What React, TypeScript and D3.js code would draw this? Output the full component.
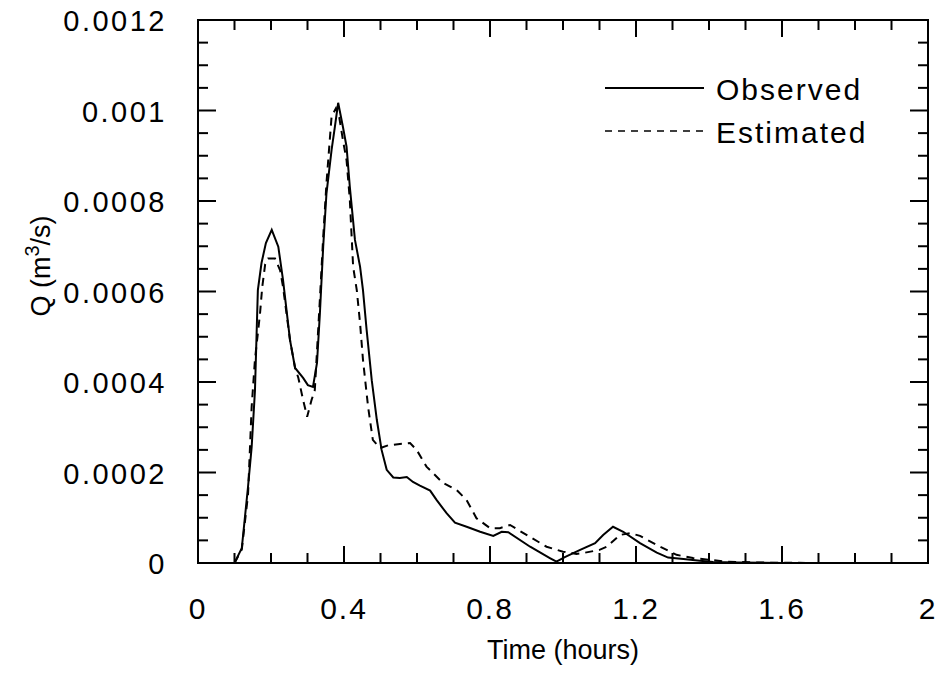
import React, { useEffect, useRef } from "react";
import * as d3 from "d3";

const obsT = [0.1, 0.12, 0.137, 0.147, 0.156, 0.164, 0.174, 0.186, 0.202, 0.22, 0.233, 0.252, 0.266, 0.288, 0.301, 0.315, 0.326, 0.334, 0.343, 0.352, 0.366, 0.375, 0.384, 0.397, 0.407, 0.416, 0.43, 0.444, 0.452, 0.462, 0.476, 0.49, 0.503, 0.517, 0.535, 0.553, 0.572, 0.589, 0.608, 0.636, 0.654, 0.681, 0.704, 0.736, 0.773, 0.809, 0.832, 0.85, 0.91, 0.964, 0.982, 1.005, 1.047, 1.088, 1.11, 1.137, 1.165, 1.211, 1.257, 1.288, 1.33, 1.375, 1.411, 1.476, 1.6, 1.8, 1.95];
const obsQ = [0, 0.33, 1.68, 2.56, 3.8, 6.03, 6.63, 7.07, 7.36, 6.99, 6.25, 4.93, 4.31, 4.09, 3.93, 3.89, 4.42, 5.52, 6.99, 8.17, 9.13, 9.64, 10.17, 9.64, 9.2, 8.31, 7.14, 6.55, 6.03, 5.15, 4.04, 3.16, 2.5, 2.06, 1.89, 1.88, 1.9, 1.79, 1.71, 1.6, 1.39, 1.1, 0.89, 0.8, 0.69, 0.6, 0.69, 0.68, 0.36, 0.11, 0.03, 0.13, 0.29, 0.44, 0.62, 0.8, 0.69, 0.44, 0.23, 0.12, 0.09, 0.05, 0.02, 0.01, 0, 0, 0];

const estT = [0.1, 0.12, 0.137, 0.147, 0.156, 0.17, 0.176, 0.184, 0.192, 0.211, 0.225, 0.233, 0.252, 0.266, 0.275, 0.288, 0.299, 0.311, 0.32, 0.334, 0.343, 0.352, 0.366, 0.378, 0.387, 0.397, 0.407, 0.416, 0.425, 0.435, 0.444, 0.452, 0.466, 0.479, 0.499, 0.521, 0.553, 0.581, 0.599, 0.626, 0.671, 0.709, 0.736, 0.763, 0.8, 0.827, 0.855, 0.9, 0.955, 1.0, 1.037, 1.055, 1.1, 1.12, 1.156, 1.184, 1.211, 1.266, 1.311, 1.356, 1.403, 1.448, 1.54, 1.7, 1.95];
const estQ = [0, 0.3, 1.5, 3.45, 4.49, 5.52, 6.1, 6.6, 6.73, 6.73, 6.47, 6.1, 4.93, 4.31, 4.09, 3.6, 3.23, 3.6, 3.82, 5.84, 7.2, 8.4, 9.87, 10.05, 9.85, 9.35, 8.9, 8.02, 6.55, 6.03, 5.3, 4.49, 3.45, 2.72, 2.54, 2.6, 2.63, 2.65, 2.5, 2.13, 1.77, 1.61, 1.39, 0.99, 0.77, 0.77, 0.84, 0.62, 0.36, 0.25, 0.2, 0.22, 0.29, 0.36, 0.62, 0.66, 0.6, 0.36, 0.18, 0.11, 0.07, 0.03, 0.01, 0, 0];

const xTickLabels = ["0", "0.4", "0.8", "1.2", "1.6", "2"];
const yTickLabels = ["0", "0.0002", "0.0004", "0.0006", "0.0008", "0.001", "0.0012"];
const seriesNames = ["Observed", "Estimated"];

const W = 945, H = 677;
const L = 198, R = 928, T = 20, B = 563;
const FONT = "'Liberation Sans', Arial, Helvetica, sans-serif";

export default function App() {
  const ref = useRef<SVGSVGElement>(null);
  useEffect(() => {
    const svg = d3.select(ref.current);
    svg.selectAll("*").remove();
    const x = d3.scaleLinear().domain([0, 2]).range([L, R]);
    const y = d3.scaleLinear().domain([0, 0.0012]).range([B, T]);

    const g = svg.append("g");
    g.append("rect").attr("x", L).attr("y", T).attr("width", R - L).attr("height", B - T)
      .attr("fill", "none").attr("stroke", "#000").attr("stroke-width", 2);

    const xMinor = d3.range(1, 20).map((i) => i * 0.1);
    const yMinor = d3.range(1, 24).map((i) => i * 0.00005);
    const isMajorX = (v: number) => Math.abs(v / 0.4 - Math.round(v / 0.4)) < 1e-6;
    const isMajorY = (v: number) => Math.abs(v / 0.0002 - Math.round(v / 0.0002)) < 1e-6;

    xMinor.forEach((v) => {
      const len = isMajorX(v) ? 17 : 10;
      const px = x(v);
      g.append("line").attr("x1", px).attr("x2", px).attr("y1", B).attr("y2", B - len).attr("stroke", "#000").attr("stroke-width", 2);
      g.append("line").attr("x1", px).attr("x2", px).attr("y1", T).attr("y2", T + len).attr("stroke", "#000").attr("stroke-width", 2);
    });
    yMinor.forEach((v) => {
      const len = isMajorY(v) ? 18 : 10;
      const py = y(v);
      g.append("line").attr("x1", L).attr("x2", L + len).attr("y1", py).attr("y2", py).attr("stroke", "#000").attr("stroke-width", 2);
      g.append("line").attr("x1", R).attr("x2", R - len).attr("y1", py).attr("y2", py).attr("stroke", "#000").attr("stroke-width", 2);
    });

    xTickLabels.forEach((lab) => {
      g.append("text").attr("x", x(+lab)).attr("y", B + 56).attr("text-anchor", "middle")
        .attr("font-family", FONT).attr("font-size", 30).attr("letter-spacing", 2).text(lab);
    });
    yTickLabels.forEach((lab) => {
      g.append("text").attr("x", L - 31).attr("y", y(+lab) + 11).attr("text-anchor", "end")
        .attr("font-family", FONT).attr("font-size", 29).attr("letter-spacing", 2.5).text(lab);
    });

    g.append("text").attr("x", 563).attr("y", 659).attr("text-anchor", "middle")
      .attr("font-family", FONT).attr("font-size", 27).text("Time (hours)");
    const yl = g.append("text").attr("transform", `translate(50,266) rotate(-90)`).attr("text-anchor", "middle")
      .attr("font-family", FONT).attr("font-size", 27);
    yl.append("tspan").text("Q  (m");
    yl.append("tspan").attr("dy", -11).attr("font-size", 20).text("3");
    yl.append("tspan").attr("dy", 11).text("/s)");

    const line = d3.line<[number, number]>().x((d) => x(d[0])).y((d) => y(d[1] * 1e-4));
    const obs: [number, number][] = obsT.map((t, i) => [t, obsQ[i]]);
    const est: [number, number][] = estT.map((t, i) => [t, estQ[i]]);
    g.append("path").attr("d", line(est)).attr("fill", "none").attr("stroke", "#000").attr("stroke-width", 2).attr("stroke-dasharray", "8,6");
    g.append("path").attr("d", line(obs)).attr("fill", "none").attr("stroke", "#000").attr("stroke-width", 2);

    const legY = [88, 131];
    seriesNames.forEach((name, i) => {
      g.append("line").attr("x1", 605).attr("x2", 704).attr("y1", legY[i]).attr("y2", legY[i])
        .attr("stroke", "#000").attr("stroke-width", i === 0 ? 2 : 1.6).attr("stroke-dasharray", i === 0 ? null : "7,6");
      g.append("text").attr("x", 716).attr("y", legY[i] + 12).attr("font-family", FONT).attr("font-size", 30)
        .attr("letter-spacing", 2).text(name);
    });
  }, []);
  return (
    <svg ref={ref} width={W} height={H} style={{ position: "absolute", left: 0, top: 0, background: "#fff" }} />
  );
}
